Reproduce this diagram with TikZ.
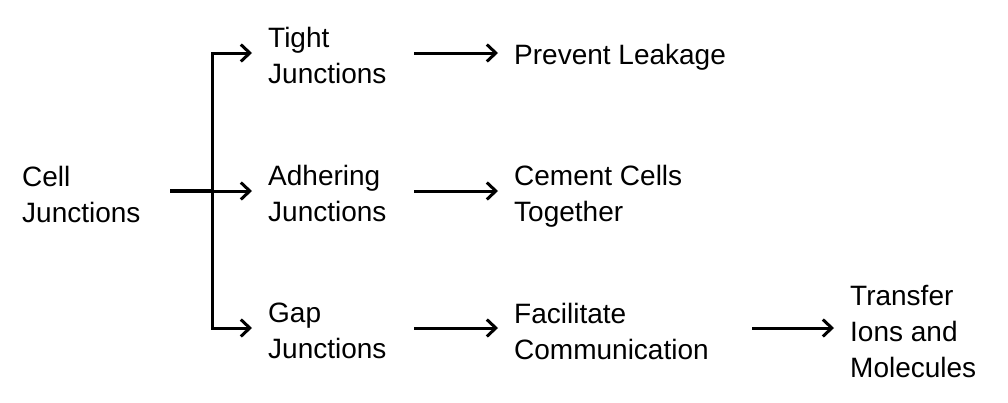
\documentclass[tikz,border=0pt]{standalone}
\usepackage{fontspec}
\setmainfont{Liberation Sans}
\usetikzlibrary{arrows.meta}

\tikzset{
    label/.style={anchor=west, align=left, inner xsep=16pt, inner ysep=0pt,
        font=\fontsize{28}{36}\selectfont},
    arr/.style={line width=3pt, -{Straight Barb[length=9pt,width=17pt,line width=3pt]}}
}

\begin{document}
\begin{tikzpicture}[x=1pt, y=-1pt]
    \useasboundingbox (0,0) rectangle (1008,402);
    % first column
    \node[label, text width=132pt] (cell) at (6,194) {Cell\\Junctions};
    % second column
    \node[label, text width=130pt] (tight) at (252,55) {Tight\\Junctions};
    \node[label, text width=130pt] (adhering) at (252,193) {Adhering\\Junctions};
    \node[label, text width=130pt] (gap) at (252,331) {Gap\\Junctions};
    % third column
    \node[label] (prevent) at (498,57) {Prevent Leakage};
    \node[label] (cement) at (498,196) {Cement Cells\\Together};
    \node[label, text width=222pt] (facilitate) at (498,331) {Facilitate\\Communication};
    % last one
    \node[label] (transfer) at (834,331) {Transfer\\Ions and\\Molecules};
    \coordinate (trunk) at (212,191);

    \draw[line width=3.5pt] (cell.east |- trunk) -- (trunk);
    \draw[arr, {Straight Barb[length=9pt,width=17pt,line width=3pt]}-{Straight Barb[length=9pt,width=17pt,line width=3pt]}]
        (tight.west |- 0,53) -| (trunk) |- (gap.west |- 0,328);
    \draw[arr] (trunk) -- (adhering.west |- trunk);

    \draw[arr] (tight.east |- 0,53) -- (prevent.west |- 0,53);
    \draw[arr] (adhering.east |- trunk) -- (cement.west |- trunk);
    \draw[arr] (gap.east |- 0,328) -- (facilitate.west |- 0,328);
    \draw[arr] (facilitate.east |- 0,328) -- (transfer.west |- 0,328);
\end{tikzpicture}
\end{document}
